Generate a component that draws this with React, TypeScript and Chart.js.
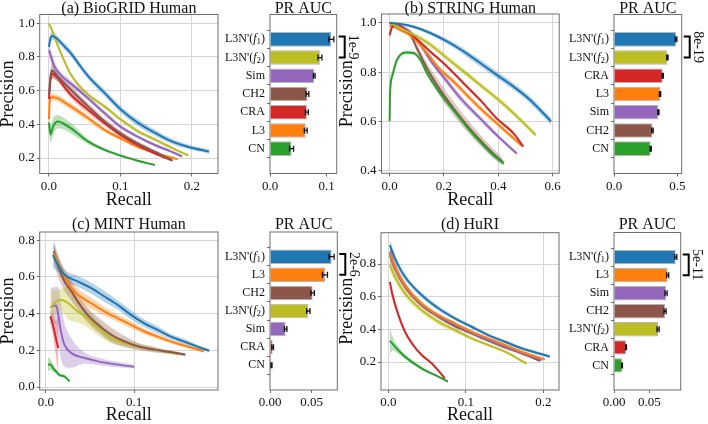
import React, { useEffect, useRef } from 'react';
import { Chart, registerables } from 'chart.js';

Chart.register(...registerables);

const FONT = "'Liberation Serif', 'Times New Roman', serif";
const TXT = '#111111';
const AXC = '#6e6e6e';
const GRID = '#d6d6d6';

const BLUE = '#1f77b4';
const ORANGE = '#ff7f0e';
const GREEN = '#2ca02c';
const RED = '#d62728';
const PURPLE = '#9467bd';
const BROWN = '#8c564b';
const OLIVE = '#bcbd22';

// ---------- PR curves: [recall, precision, half band width] ----------
// (a) BioGRID Human
const a_L3Nf1 = [[0, 0.86, 0.03], [0.002, 0.91, 0.03], [0.005, 0.925, 0.025], [0.012, 0.905, 0.02], [0.02, 0.87, 0.02], [0.031, 0.82, 0.02], [0.043, 0.75, 0.02], [0.055, 0.685, 0.02], [0.078, 0.585, 0.02], [0.1, 0.49, 0.02], [0.124, 0.41, 0.02], [0.148, 0.35, 0.018], [0.171, 0.3, 0.016], [0.194, 0.267, 0.014], [0.224, 0.238, 0.012]];
const a_L3Nf2 = [[0, 1.0, 0.005], [0.006, 0.94, 0.01], [0.012, 0.87, 0.01], [0.02, 0.79, 0.012], [0.03, 0.7, 0.012], [0.04, 0.64, 0.012], [0.055, 0.575, 0.012], [0.078, 0.505, 0.012], [0.1, 0.43, 0.012], [0.124, 0.36, 0.012], [0.148, 0.31, 0.01], [0.171, 0.262, 0.01], [0.195, 0.215, 0.008]];
const a_Sim = [[0, 0.84, 0.04], [0.003, 0.8, 0.04], [0.008, 0.74, 0.03], [0.015, 0.7, 0.02], [0.022, 0.67, 0.02], [0.031, 0.64, 0.02], [0.055, 0.554, 0.015], [0.078, 0.465, 0.015], [0.1, 0.386, 0.012], [0.124, 0.327, 0.01], [0.148, 0.277, 0.01], [0.171, 0.238, 0.008], [0.186, 0.21, 0.008]];
const a_CH2 = [[0, 0.58, 0.05], [0.002, 0.68, 0.05], [0.004, 0.72, 0.04], [0.0126, 0.683, 0.03], [0.02, 0.65, 0.025], [0.031, 0.604, 0.02], [0.055, 0.505, 0.02], [0.078, 0.416, 0.018], [0.1, 0.347, 0.015], [0.124, 0.287, 0.012], [0.148, 0.238, 0.01], [0.173, 0.184, 0.008]];
const a_CRA = [[0, 0.55, 0.05], [0.002, 0.66, 0.04], [0.004, 0.7, 0.03], [0.0126, 0.673, 0.02], [0.02, 0.63, 0.02], [0.031, 0.574, 0.02], [0.055, 0.485, 0.02], [0.078, 0.406, 0.015], [0.1, 0.337, 0.012], [0.124, 0.277, 0.01], [0.148, 0.228, 0.01], [0.171, 0.188, 0.008]];
const a_L3 = [[0, 0.43, 0.02], [0.001, 0.53, 0.02], [0.003, 0.56, 0.02], [0.0126, 0.554, 0.02], [0.02, 0.535, 0.02], [0.031, 0.505, 0.02], [0.055, 0.436, 0.02], [0.078, 0.366, 0.015], [0.1, 0.317, 0.012], [0.124, 0.267, 0.01], [0.148, 0.232, 0.008], [0.18, 0.192, 0.006]];
const a_CN = [[0, 0.41, 0.04], [0.002, 0.34, 0.05], [0.006, 0.39, 0.05], [0.0126, 0.416, 0.04], [0.02, 0.405, 0.035], [0.031, 0.376, 0.03], [0.055, 0.297, 0.015], [0.078, 0.248, 0.01], [0.1, 0.214, 0.008], [0.124, 0.184, 0.006], [0.148, 0.158, 0.005]];

// (b) STRING Human
const b_L3Nf1 = [[0, 1.0, 0.005], [0.04, 0.995, 0.005], [0.088, 0.984, 0.006], [0.149, 0.959, 0.008], [0.211, 0.925, 0.01], [0.272, 0.884, 0.012], [0.333, 0.837, 0.014], [0.394, 0.789, 0.014], [0.456, 0.741, 0.014], [0.517, 0.687, 0.014], [0.594, 0.6, 0.014]];
const b_L3Nf2 = [[0, 1.0, 0.005], [0.039, 0.98, 0.008], [0.088, 0.952, 0.01], [0.149, 0.912, 0.012], [0.211, 0.857, 0.012], [0.272, 0.803, 0.012], [0.333, 0.748, 0.012], [0.394, 0.694, 0.012], [0.456, 0.633, 0.012], [0.538, 0.544, 0.01]];
const b_CRA = [[0, 0.95, 0.02], [0.01, 0.985, 0.01], [0.03, 0.99, 0.005], [0.064, 0.966, 0.005], [0.088, 0.946, 0.005], [0.149, 0.884, 0.006], [0.211, 0.823, 0.006], [0.272, 0.755, 0.006], [0.333, 0.687, 0.006], [0.394, 0.612, 0.006], [0.456, 0.551, 0.006], [0.492, 0.497, 0.006]];
const b_L3 = [[0, 0.99, 0.005], [0.039, 0.973, 0.008], [0.088, 0.939, 0.008], [0.137, 0.878, 0.01], [0.186, 0.81, 0.012], [0.235, 0.762, 0.012], [0.284, 0.707, 0.012], [0.333, 0.653, 0.012], [0.394, 0.592, 0.01], [0.456, 0.531, 0.01], [0.485, 0.502, 0.008]];
const b_Sim = [[0, 1.0, 0.005], [0.064, 0.973, 0.008], [0.1, 0.932, 0.01], [0.149, 0.85, 0.012], [0.211, 0.762, 0.014], [0.272, 0.68, 0.014], [0.333, 0.612, 0.012], [0.394, 0.544, 0.01], [0.468, 0.469, 0.008]];
const b_CH2 = [[0, 1.0, 0.005], [0.039, 0.973, 0.008], [0.076, 0.952, 0.01], [0.1, 0.898, 0.015], [0.137, 0.816, 0.022], [0.186, 0.728, 0.028], [0.235, 0.653, 0.028], [0.284, 0.585, 0.026], [0.333, 0.524, 0.022], [0.382, 0.469, 0.02], [0.416, 0.435, 0.015]];
const b_CN = [[0, 0.6, 0.05], [0.001, 0.7, 0.04], [0.009, 0.782, 0.02], [0.027, 0.85, 0.01], [0.064, 0.88, 0.008], [0.088, 0.878, 0.008], [0.113, 0.85, 0.008], [0.137, 0.796, 0.01], [0.186, 0.714, 0.01], [0.235, 0.646, 0.01], [0.284, 0.578, 0.01], [0.333, 0.517, 0.01], [0.382, 0.463, 0.01], [0.421, 0.429, 0.008]];

// (c) MINT Human
const c_L3Nf1 = [[0.008, 0.72, 0.07], [0.0135, 0.667, 0.04], [0.021, 0.613, 0.03], [0.036, 0.576, 0.03], [0.051, 0.54, 0.03], [0.066, 0.495, 0.03], [0.081, 0.449, 0.025], [0.096, 0.395, 0.025], [0.111, 0.349, 0.02], [0.126, 0.313, 0.02], [0.141, 0.276, 0.015], [0.156, 0.249, 0.015], [0.171, 0.222, 0.01], [0.185, 0.198, 0.008]];
const c_L3 = [[0.009, 0.731, 0.04], [0.0135, 0.676, 0.04], [0.021, 0.604, 0.04], [0.029, 0.54, 0.04], [0.036, 0.504, 0.035], [0.051, 0.458, 0.03], [0.066, 0.413, 0.025], [0.081, 0.376, 0.02], [0.096, 0.34, 0.02], [0.111, 0.304, 0.015], [0.126, 0.276, 0.015], [0.141, 0.249, 0.012], [0.156, 0.227, 0.01], [0.179, 0.195, 0.008]];
const c_CH2 = [[0.009, 0.74, 0.06], [0.0135, 0.667, 0.06], [0.021, 0.576, 0.05], [0.029, 0.522, 0.05], [0.036, 0.467, 0.04], [0.047, 0.395, 0.04], [0.059, 0.34, 0.04], [0.074, 0.285, 0.04], [0.089, 0.249, 0.03], [0.104, 0.222, 0.02], [0.123, 0.204, 0.015], [0.141, 0.191, 0.01], [0.158, 0.176, 0.008]];
const c_L3Nf2 = [[0.005, 0.431, 0.1], [0.0098, 0.458, 0.07], [0.017, 0.476, 0.06], [0.025, 0.458, 0.09], [0.036, 0.413, 0.06], [0.047, 0.376, 0.05], [0.059, 0.322, 0.04], [0.074, 0.267, 0.03], [0.089, 0.24, 0.02], [0.104, 0.222, 0.015], [0.123, 0.204, 0.012], [0.151, 0.18, 0.01]];
const c_Sim = [[0.006, 0.44, 0.1], [0.0117, 0.445, 0.1], [0.014, 0.395, 0.15], [0.017, 0.304, 0.15], [0.021, 0.231, 0.12], [0.029, 0.185, 0.08], [0.044, 0.158, 0.03], [0.059, 0.14, 0.02], [0.077, 0.125, 0.015], [0.1, 0.111, 0.01]];
const c_CRA = [[0.005, 0.385, 0.04], [0.008, 0.34, 0.06], [0.0117, 0.258, 0.1], [0.014, 0.213, 0.17]];
const c_CN = [[0.0023, 0.122, 0.04], [0.005, 0.125, 0.03], [0.008, 0.104, 0.02], [0.0117, 0.085, 0.01], [0.015, 0.067, 0.01], [0.021, 0.058, 0.008], [0.027, 0.031, 0.005]];

// (d) HuRI
const d_L3Nf1 = [[0.002, 0.916, 0.03], [0.0086, 0.835, 0.025], [0.0215, 0.722, 0.02], [0.043, 0.61, 0.015], [0.0645, 0.529, 0.015], [0.086, 0.467, 0.012], [0.1075, 0.416, 0.012], [0.129, 0.365, 0.01], [0.1505, 0.324, 0.01], [0.172, 0.284, 0.01], [0.191, 0.257, 0.01], [0.2086, 0.233, 0.01]];
const d_L3 = [[0.002, 0.865, 0.03], [0.0086, 0.784, 0.02], [0.0215, 0.671, 0.015], [0.043, 0.559, 0.012], [0.0645, 0.488, 0.01], [0.086, 0.437, 0.01], [0.1075, 0.386, 0.01], [0.129, 0.345, 0.008], [0.1505, 0.304, 0.008], [0.172, 0.263, 0.008], [0.202, 0.216, 0.008]];
const d_Sim = [[0.002, 0.876, 0.04], [0.0086, 0.784, 0.03], [0.0215, 0.671, 0.02], [0.043, 0.553, 0.015], [0.0645, 0.482, 0.012], [0.086, 0.427, 0.012], [0.1075, 0.38, 0.01], [0.129, 0.335, 0.01], [0.1505, 0.294, 0.01], [0.172, 0.257, 0.008], [0.198, 0.212, 0.008]];
const d_CH2 = [[0.002, 0.855, 0.04], [0.0086, 0.773, 0.03], [0.0215, 0.661, 0.02], [0.043, 0.549, 0.015], [0.0645, 0.478, 0.012], [0.086, 0.42, 0.012], [0.1075, 0.376, 0.01], [0.129, 0.331, 0.01], [0.1505, 0.29, 0.01], [0.172, 0.253, 0.008], [0.196, 0.208, 0.008]];
const d_L3Nf2 = [[0.002, 0.794, 0.04], [0.0086, 0.722, 0.03], [0.0215, 0.62, 0.025], [0.043, 0.518, 0.02], [0.0645, 0.447, 0.02], [0.086, 0.396, 0.015], [0.1075, 0.345, 0.012], [0.129, 0.304, 0.01], [0.1505, 0.263, 0.01], [0.1785, 0.19, 0.008]];
const d_CRA = [[0.002, 0.69, 0.03], [0.005, 0.62, 0.03], [0.011, 0.518, 0.02], [0.0215, 0.386, 0.015], [0.032, 0.304, 0.01], [0.043, 0.243, 0.008], [0.056, 0.192, 0.006], [0.073, 0.1, 0.005]];
const d_CN = [[0.002, 0.33, 0.08], [0.006, 0.31, 0.04], [0.0086, 0.294, 0.03], [0.0215, 0.233, 0.015], [0.043, 0.161, 0.01], [0.0645, 0.11, 0.006], [0.077, 0.08, 0.005]];

// ---------- PR AUC bars ----------
const aMethods = ["L3N'(f1)", "L3N'(f2)", 'Sim', 'CH2', 'CRA', 'L3', 'CN'];
const aAuc = [0.108, 0.088, 0.078, 0.066, 0.065, 0.063, 0.038];
const aErr = [0.0045, 0.0035, 0.0015, 0.0025, 0.0025, 0.0025, 0.0035];
const aColors = [BLUE, OLIVE, PURPLE, BROWN, RED, ORANGE, GREEN];

const bMethods = ["L3N'(f1)", "L3N'(f2)", 'CRA', 'L3', 'Sim', 'CH2', 'CN'];
const bAuc = [0.49, 0.421, 0.384, 0.363, 0.35, 0.303, 0.289];
const bErr = [0.006, 0.005, 0.005, 0.005, 0.005, 0.006, 0.005];
const bColors = [BLUE, OLIVE, RED, ORANGE, PURPLE, BROWN, GREEN];

const cMethods = ["L3N'(f1)", 'L3', 'CH2', "L3N'(f2)", 'Sim', 'CRA', 'CN'];
const cAuc = [0.074, 0.066, 0.0512, 0.046, 0.0188, 0.0032, 0.0016];
const cErr = [0.003, 0.003, 0.002, 0.002, 0.0015, 0.001, 0.0008];
const cColors = [BLUE, ORANGE, BROWN, OLIVE, PURPLE, RED, GREEN];

const dMethods = ["L3N'(f1)", 'L3', 'Sim', 'CH2', "L3N'(f2)", 'CRA', 'CN'];
const dAuc = [0.0873, 0.0759, 0.0736, 0.0722, 0.0623, 0.017, 0.0113];
const dErr = [0.0015, 0.0015, 0.0015, 0.0015, 0.0015, 0.0006, 0.0006];
const dColors = [BLUE, ORANGE, PURPLE, BROWN, OLIVE, RED, GREEN];

const pValues = ['1e-9', '8e-19', '2e-6', '5e-11'];

// tick values
const aXTicks = [0, 0.1, 0.2];
const aYTicks = [0.2, 0.4, 0.6, 0.8, 1.0];
const bXTicks = [0, 0.2, 0.4, 0.6];
const bYTicks = [0.4, 0.6, 0.8, 1.0];
const cXTicks = [0, 0.1];
const cYTicks = [0, 0.2, 0.4, 0.6, 0.8];
const dXTicks = [0, 0.1, 0.2];
const dYTicks = [0.2, 0.4, 0.6, 0.8];
const aBarTicks = [0, 0.1];
const bBarTicks = [0, 0.5];
const cBarTicks = [0, 0.05];
const dBarTicks = [0, 0.05];

// ---------- helpers ----------
function rgba(hex: string, a: number) {
  const n = parseInt(hex.slice(1), 16);
  return `rgba(${(n >> 16) & 255},${(n >> 8) & 255},${n & 255},${a})`;
}

function fixBox(w?: number, h?: number) {
  return (s: any) => {
    if (w !== undefined) s.width = w;
    if (h !== undefined) s.height = h;
    s.paddingLeft = 0; s.paddingRight = 0; s.paddingTop = 0; s.paddingBottom = 0;
  };
}
function setTicks(vals: number[]) {
  return (axis: any) => { axis.ticks = vals.map((v) => ({ value: v })); };
}

const framePlugin = {
  id: 'frame',
  afterDraw(chart: any, _args: any, opts: any) {
    const { ctx, chartArea: a } = chart;
    ctx.save();
    ctx.strokeStyle = AXC;
    ctx.lineWidth = 1;
    ctx.strokeRect(a.left, a.top, a.right - a.left, a.bottom - a.top);
    if (opts.title) {
      ctx.fillStyle = TXT;
      ctx.font = `16px ${FONT}`;
      ctx.textAlign = 'center';
      ctx.textBaseline = 'middle';
      ctx.fillText(opts.title, (a.left + a.right) / 2, opts.titleY);
    }
    ctx.restore();
  },
};

function drawRichLabel(ctx: CanvasRenderingContext2D, label: string, xRight: number, y: number, size: number) {
  const m = label.match(/^(.*)\((f)(\d)\)$/);
  const segs: any[] = m
    ? [
        { t: m[1] + '(', f: `${size}px ${FONT}`, dy: 0 },
        { t: 'f', f: `italic ${size}px ${FONT}`, dy: 0 },
        { t: m[3], f: `${Math.round(size * 0.72)}px ${FONT}`, dy: size * 0.22 },
        { t: ')', f: `${size}px ${FONT}`, dy: 0 },
      ]
    : [{ t: label, f: `${size}px ${FONT}`, dy: 0 }];
  let total = 0;
  segs.forEach((s) => { ctx.font = s.f; s.w = ctx.measureText(s.t).width; total += s.w; });
  let x = xRight - total;
  ctx.textAlign = 'left';
  ctx.textBaseline = 'middle';
  segs.forEach((s) => { ctx.font = s.f; ctx.fillText(s.t, x, y + s.dy); x += s.w; });
}

const barDecoPlugin = {
  id: 'barDeco',
  afterDatasetsDraw(chart: any, _args: any, opts: any) {
    const { ctx, chartArea: a } = chart;
    const xs = chart.scales.x;
    const ys = chart.scales.y;
    ctx.save();
    ctx.strokeStyle = '#111';
    ctx.lineWidth = 1.3;
    opts.values.forEach((v: number, i: number) => {
      const e = opts.errs[i];
      const y = ys.getPixelForValue(i);
      const x1 = xs.getPixelForValue(Math.max(0, v - e));
      const x2 = xs.getPixelForValue(v + e);
      ctx.beginPath();
      ctx.moveTo(x1, y); ctx.lineTo(x2, y);
      ctx.moveTo(x1, y - 3); ctx.lineTo(x1, y + 3);
      ctx.moveTo(x2, y - 3); ctx.lineTo(x2, y + 3);
      ctx.stroke();
    });
    ctx.fillStyle = TXT;
    opts.labels.forEach((lab: string, i: number) => {
      drawRichLabel(ctx, lab, a.left - 5, ys.getPixelForValue(i), 12);
    });
    const yT = ys.getPixelForValue(-0.15);
    const yB = ys.getPixelForValue(1);
    const xv = a.right + 8;
    ctx.strokeStyle = '#000';
    ctx.lineWidth = 2;
    ctx.beginPath();
    ctx.moveTo(a.right + 2, yT); ctx.lineTo(xv, yT); ctx.lineTo(xv, yB); ctx.lineTo(a.right + 2, yB);
    ctx.stroke();
    ctx.translate(a.right + 16, (yT + yB) / 2);
    ctx.rotate(Math.PI / 2);
    ctx.font = `14px ${FONT}`;
    ctx.textAlign = 'center';
    ctx.textBaseline = 'middle';
    ctx.fillText(opts.sig, 0, 0);
    ctx.restore();
  },
};

type Curve = { pts: number[][]; color: string };

function curveDatasets(curves: Curve[]) {
  const ds: any[] = [];
  curves.forEach((c) => {
    const common = { pointRadius: 0, borderWidth: 0, cubicInterpolationMode: 'monotone', order: 2 };
    ds.push({ ...common, data: c.pts.map((p) => ({ x: p[0], y: p[1] + p[2] })), fill: '+1', backgroundColor: rgba(c.color, 0.32) });
    ds.push({ ...common, data: c.pts.map((p) => ({ x: p[0], y: p[1] - p[2] })), fill: false });
  });
  curves.forEach((c) => {
    ds.push({ data: c.pts.map((p) => ({ x: p[0], y: p[1] })), borderColor: c.color, borderWidth: 2, pointRadius: 0, fill: false, cubicInterpolationMode: 'monotone', order: 1 });
  });
  return ds;
}

const tickFont = { family: FONT, size: 13 };
const axTitleFont = { family: FONT, size: 18, lineHeight: 1 };

function lineConfig(p: any): any {
  return {
    type: 'line',
    data: { datasets: curveDatasets(p.curves) },
    options: {
      responsive: false, animation: false, devicePixelRatio: 1,
      layout: { padding: p.pad },
      plugins: { legend: { display: false }, tooltip: { enabled: false }, frame: { title: p.title, titleY: p.titleY } },
      scales: {
        x: {
          type: 'linear', min: p.xMin, max: p.xMax,
          afterBuildTicks: setTicks(p.xTicks), afterFit: fixBox(undefined, p.xH),
          ticks: { callback: (v: any) => Number(v).toFixed(1), font: tickFont, color: TXT, padding: 2, maxRotation: 0, autoSkip: false },
          grid: { color: GRID, tickColor: AXC, tickLength: 3 },
          border: { display: false },
          title: { display: true, text: 'Recall', font: axTitleFont, color: TXT, padding: { top: 0, bottom: p.xtPad } },
        },
        y: {
          type: 'linear', min: p.yMin, max: p.yMax,
          afterBuildTicks: setTicks(p.yTicks), afterFit: fixBox(p.yW, undefined),
          ticks: { callback: (v: any) => Number(v).toFixed(1), font: tickFont, color: TXT, padding: 2, autoSkip: false },
          grid: { color: GRID, tickColor: AXC, tickLength: 3 },
          border: { display: false },
          title: { display: true, text: 'Precision', font: axTitleFont, color: TXT, padding: { top: p.ytPad, bottom: 0 } },
        },
      },
    },
    plugins: [framePlugin],
  };
}

function barConfig(p: any): any {
  return {
    type: 'bar',
    data: {
      datasets: [{
        data: p.values.map((v: number, i: number) => ({ x: v, y: i })),
        backgroundColor: p.colors, borderColor: '#b5b5b5', borderWidth: 1,
        categoryPercentage: 1, barPercentage: 0.8,
      }],
    },
    options: {
      indexAxis: 'y', responsive: false, animation: false, devicePixelRatio: 1,
      layout: { padding: p.pad },
      plugins: {
        legend: { display: false }, tooltip: { enabled: false },
        frame: { title: 'PR AUC', titleY: p.titleY },
        barDeco: { labels: p.labels, values: p.values, errs: p.errs, sig: p.sig },
      },
      scales: {
        x: {
          type: 'linear', min: 0, max: p.xMax,
          afterBuildTicks: setTicks(p.xTicks), afterFit: fixBox(undefined, p.xH),
          ticks: { callback: (v: any) => Number(v).toFixed(p.dec), font: tickFont, color: TXT, padding: 2, maxRotation: 0, autoSkip: false },
          grid: { drawOnChartArea: false, tickColor: AXC, tickLength: 3 },
          border: { display: false },
        },
        y: {
          type: 'linear', min: -0.74, max: 6.74, reverse: true,
          afterBuildTicks: setTicks(p.labels.map((_: string, i: number) => i)), afterFit: fixBox(p.yW, undefined),
          ticks: { display: false },
          grid: { drawOnChartArea: false, tickColor: AXC, tickLength: 3 },
          border: { display: false },
        },
      },
    },
    plugins: [framePlugin, barDecoPlugin],
  };
}

function ChartBox({ left, top, width, height, config }: any) {
  const ref = useRef<HTMLCanvasElement>(null);
  useEffect(() => {
    const chart = new Chart(ref.current as HTMLCanvasElement, config());
    return () => chart.destroy();
  }, []);
  return <canvas ref={ref} width={width} height={height} style={{ position: 'absolute', left, top, width, height }} />;
}

const lineA = () => lineConfig({
  title: '(a) BioGRID Human', titleY: 8.5,
  curves: [
    { pts: a_L3Nf1, color: BLUE }, { pts: a_L3Nf2, color: OLIVE }, { pts: a_Sim, color: PURPLE },
    { pts: a_CH2, color: BROWN }, { pts: a_CRA, color: RED }, { pts: a_L3, color: ORANGE }, { pts: a_CN, color: GREEN },
  ],
  xMin: -0.013, xMax: 0.2364, yMin: 0.108, yMax: 1.052, xTicks: aXTicks, yTicks: aYTicks,
  pad: { left: 0, top: 14.5, right: 14, bottom: 0 }, yW: 39.7, xH: 38.5, ytPad: -1, xtPad: 3,
});
const lineB = () => lineConfig({
  title: '(b) STRING Human', titleY: 8.5,
  curves: [
    { pts: b_L3Nf1, color: BLUE }, { pts: b_L3Nf2, color: OLIVE }, { pts: b_CRA, color: RED },
    { pts: b_L3, color: ORANGE }, { pts: b_Sim, color: PURPLE }, { pts: b_CN, color: GREEN }, { pts: b_CH2, color: BROWN },
  ],
  xMin: -0.03, xMax: 0.624, yMin: 0.389, yMax: 1.036, xTicks: bXTicks, yTicks: bYTicks,
  pad: { left: 0, top: 14, right: 10.8, bottom: 0 }, yW: 51.5, xH: 38.7, ytPad: 8.5, xtPad: 3,
});
const lineC = () => lineConfig({
  title: '(c) MINT Human', titleY: 12.5,
  curves: [
    { pts: c_L3Nf1, color: BLUE }, { pts: c_L3, color: ORANGE }, { pts: c_CH2, color: BROWN },
    { pts: c_L3Nf2, color: OLIVE }, { pts: c_Sim, color: PURPLE }, { pts: c_CRA, color: RED }, { pts: c_CN, color: GREEN },
  ],
  xMin: -0.007, xMax: 0.195, yMin: -0.016, yMax: 0.845, xTicks: cXTicks, yTicks: cYTicks,
  pad: { left: 0, top: 20, right: 14, bottom: 0 }, yW: 39.7, xH: 34, ytPad: -1, xtPad: 0,
});
const lineD = () => lineConfig({
  title: '(d) HuRI', titleY: 12.5,
  curves: [
    { pts: d_L3Nf1, color: BLUE }, { pts: d_L3, color: ORANGE }, { pts: d_Sim, color: PURPLE },
    { pts: d_CH2, color: BROWN }, { pts: d_L3Nf2, color: OLIVE }, { pts: d_CRA, color: RED }, { pts: d_CN, color: GREEN },
  ],
  xMin: -0.0094, xMax: 0.2203, yMin: 0.0285, yMax: 0.992, xTicks: dXTicks, yTicks: dYTicks,
  pad: { left: 0, top: 20.7, right: 11, bottom: 0 }, yW: 51, xH: 34, ytPad: 8.5, xtPad: 0,
});

const barA = () => barConfig({ labels: aMethods, values: aAuc, errs: aErr, colors: aColors, sig: pValues[0], xMax: 0.1176, xTicks: aBarTicks, dec: 1, titleY: 8.5, pad: { left: 0, top: 14.5, right: 25.3, bottom: 0 }, yW: 58, xH: 38.5 });
const barB = () => barConfig({ labels: bMethods, values: bAuc, errs: bErr, colors: bColors, sig: pValues[1], xMax: 0.534, xTicks: bBarTicks, dec: 1, titleY: 8.5, pad: { left: 0, top: 14.5, right: 26.3, bottom: 0 }, yW: 58, xH: 38.5 });
const barC = () => barConfig({ labels: cMethods, values: cAuc, errs: cErr, colors: cColors, sig: pValues[2], xMax: 0.0808, xTicks: cBarTicks, dec: 2, titleY: 12.5, pad: { left: 0, top: 20, right: 24.7, bottom: 0 }, yW: 58, xH: 34 });
const barD = () => barConfig({ labels: dMethods, values: dAuc, errs: dErr, colors: dColors, sig: pValues[3], xMax: 0.0943, xTicks: dBarTicks, dec: 2, titleY: 12.5, pad: { left: 0, top: 20.5, right: 27.3, bottom: 0 }, yW: 58, xH: 34 });

export default function App() {
  return (
    <div style={{ position: 'absolute', left: 0, top: 0, width: 708, height: 424, background: '#fff', overflow: 'hidden' }}>
      <ChartBox left={0} top={0} width={232} height={212} config={lineA} />
      <ChartBox left={330} top={0} width={240} height={212} config={lineB} />
      <ChartBox left={0} top={212} width={232} height={212} config={lineC} />
      <ChartBox left={330} top={212} width={240} height={212} config={lineD} />
      <ChartBox left={212} top={0} width={150} height={212} config={barA} />
      <ChartBox left={556} top={0} width={152} height={212} config={barB} />
      <ChartBox left={212} top={212} width={150} height={212} config={barC} />
      <ChartBox left={556} top={212} width={152} height={212} config={barD} />
    </div>
  );
}
